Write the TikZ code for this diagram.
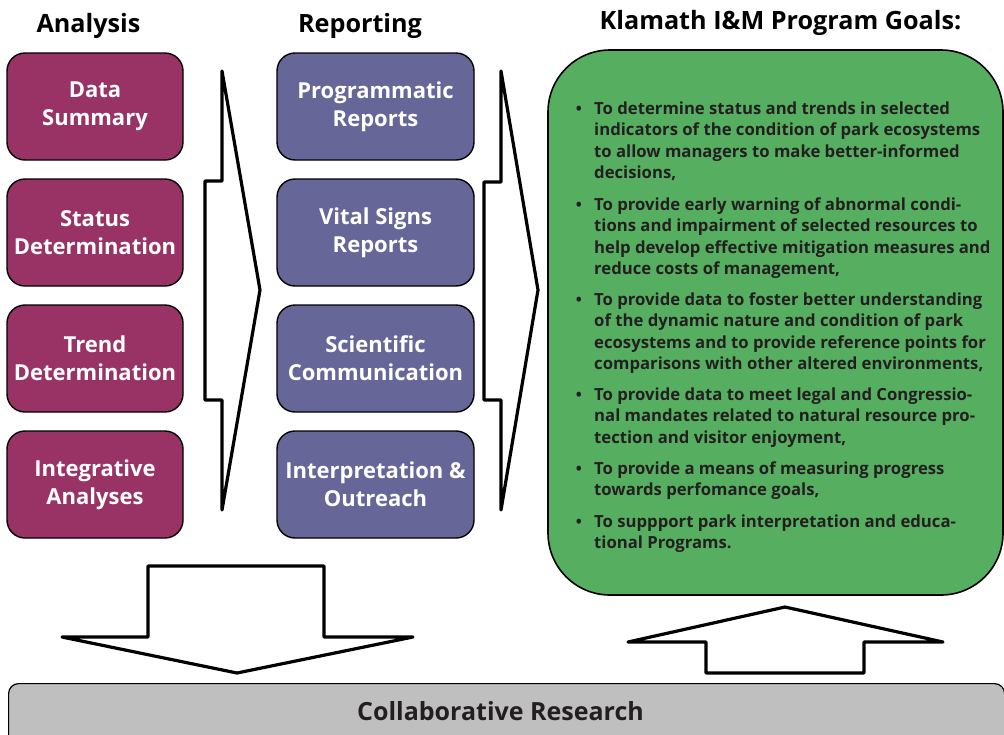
\documentclass[tikz,border=0pt]{standalone}
\usepackage{fontspec}
\setmainfont{Open Sans}
\definecolor{magc}{HTML}{993366}
\definecolor{purc}{HTML}{666699}
\definecolor{grnc}{HTML}{56AF61}
\definecolor{gryc}{HTML}{BFBFBF}
\definecolor{txtc}{HTML}{231F20}
\tikzset{
  magbox/.style={draw=black, line width=1.4pt, fill=magc, rounded corners=18pt,
    minimum width=176pt, minimum height=107pt, text=white, align=center,
    font=\bfseries\fontsize{22}{28}\selectfont},
  purbox/.style={magbox, fill=purc, minimum width=197pt},
  heading/.style={font=\bfseries\fontsize{25.2}{28}\selectfont, text=black, anchor=base},
  goal/.style={anchor=base west, align=left, inner sep=0pt, text=txtc,
    font=\bfseries\fontsize{16.7}{21.5}\selectfont},
  bul/.style={anchor=base, inner sep=0pt, text=txtc, font=\bfseries\fontsize{16}{20}\selectfont},
  blockarrow/.style={draw=black, line width=3.2pt, line join=round, fill=white}
}
\begin{document}
\begin{tikzpicture}[x=1pt,y=-1pt]
\clip (0,0) rectangle (1004,734);
\fill[white] (0,0) rectangle (1004,734);

% headings
\node[heading] (h1) at (88.5,32) {Analysis};
\node[heading] (h2) at (360,32) {Reporting};
\node[heading] (h3) at (780.5,29) {Klamath I\&M Program Goals:};

% analysis boxes
\node[magbox] (a1) at (95,106.5) {Data\\Summary};
\node[magbox] (a2) at (95,232.5) {Status\\Determination};
\node[magbox] (a3) at (95,358.5) {Trend\\Determination};
\node[magbox] (a4) at (95,484.5) {Integrative\\Analyses};

% reporting boxes
\node[purbox] (r1) at (375.5,106.5) {Programmatic\\Reports};
\node[purbox] (r2) at (375.5,232.5) {Vital Signs\\Reports};
\node[purbox] (r3) at (375.5,358.5) {Scientific\\Communication};
\node[purbox] (r4) at (375.5,484.5) {Interpretation \&\\Outreach};

% block arrows right
\draw[blockarrow] (205,181) -- (222,181) -- (222,71) -- (260,290) -- (222,510) -- (222,400) -- (205,400) -- cycle;
\draw[blockarrow] (484,182) -- (501,182) -- (501,71) -- (538,290) -- (501,510) -- (501,400) -- (484,400) -- cycle;

% goals box
\node[draw=black, line width=1.6pt, fill=grnc, rounded corners=62pt,
  minimum width=455pt, minimum height=545pt] (goals) at (775.5,322.5) {};

% goal items (anchor = baseline of last line)
\node[goal] (g1) at (594,178.5) {To determine status and trends in selected\\indicators of the condition of park ecosystems\\to allow managers to make better-informed\\decisions,};
\node[goal] (g2) at (594,274.5) {To provide early warning of abnormal condi-\\tions and impairment of selected resources to\\help develop effective mitigation measures and\\reduce costs of management,};
\node[goal] (g3) at (594,369.5) {To provide data to foster better understanding\\of the dynamic nature and condition of park\\ecosystems and to provide reference points for\\comparisons with other altered environments,};
\node[goal] (g4) at (594,443) {To provide data to meet legal and Congressio-\\nal mandates related to natural resource pro-\\tection and visitor enjoyment,};
\node[goal] (g5) at (594,495.5) {To provide a means of measuring progress\\towards perfomance goals,};
\node[goal] (g6) at (594,548.5) {To suppport park interpretation and educa-\\tional Programs.};

\node[bul] (b1) at (579,114) {•};
\node[bul] (b2) at (579,210) {•};
\node[bul] (b3) at (579,305) {•};
\node[bul] (b4) at (579,400) {•};
\node[bul] (b5) at (579,474) {•};
\node[bul] (b6) at (579,527) {•};

% collaborative research bar
\node[draw=black, line width=1.2pt, fill=gryc, rounded corners=10pt,
  minimum width=996pt, minimum height=80pt, anchor=north west] (collab) at (8,683) {};
\node[font=\bfseries\fontsize{25}{28}\selectfont, text=txtc, anchor=base] (collabtxt) at (500.5,720) {Collaborative Research};

% down arrow
\draw[blockarrow] (148,566) -- (324,566) -- (324,637) -- (413,637) -- (237,673) -- (62,637) -- (148,637) -- cycle;
% up arrow
\draw[blockarrow] (706,673) -- (864,673) -- (864,642) -- (943,642) -- (785,607) -- (628,642) -- (706,642) -- cycle;
\end{tikzpicture}
\end{document}
